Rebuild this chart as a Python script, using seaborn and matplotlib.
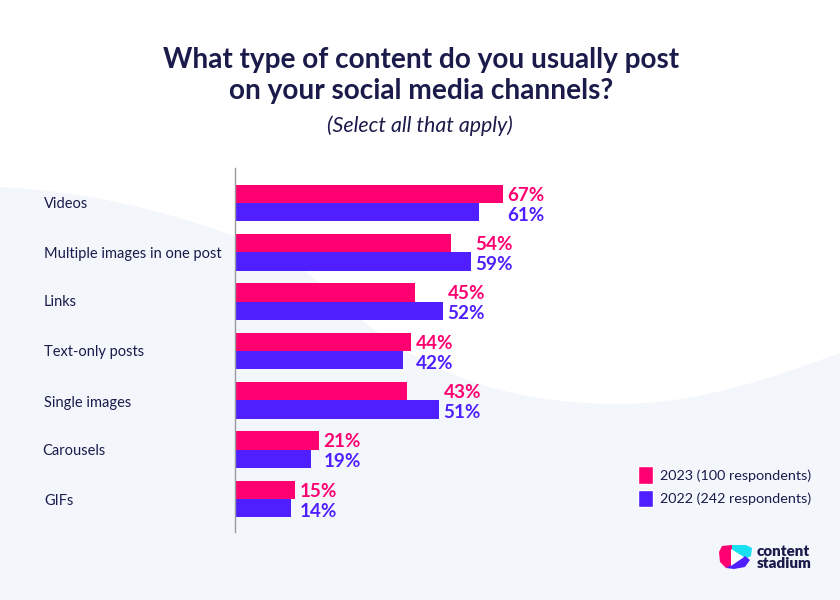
import numpy as np
import pandas as pd
import matplotlib
matplotlib.use("Agg")
import matplotlib.pyplot as plt
from matplotlib.patches import Polygon, PathPatch, Patch
from matplotlib.path import Path
import seaborn as sns

categories = ["Videos", "Multiple images in one post", "Links", "Text-only posts",
              "Single images", "Carousels", "GIFs"]
values_2023 = [67, 54, 45, 44, 43, 21, 15]
values_2022 = [61, 59, 52, 42, 51, 19, 14]
series_names = ["2023 (100 respondents)", "2022 (242 respondents)"]

PINK = "#FF0070"
PURPLE = "#4F1FFF"
NAVY = "#1B1B4B"
BG = "#F3F7FC"

sns.set_theme(style="white")
plt.rcParams["font.family"] = ["Lato", "DejaVu Sans"]

df = pd.DataFrame({
    "category": categories * 2,
    "value": values_2023 + values_2022,
    "series": [series_names[0]] * 7 + [series_names[1]] * 7,
})

W, H = 840, 600
fig = plt.figure(figsize=(W / 100, H / 100), dpi=100, facecolor="white")

# background swoosh, pixel coords
bg = fig.add_axes([0, 0, 1, 1], zorder=0)
bg.set_xlim(0, W)
bg.set_ylim(H, 0)
bg.axis("off")
verts = [(0, 187), (110, 193), (200, 220), (290, 258),
         (350, 305), (420, 404), (620, 404),
         (700, 404), (780, 375), (840, 353),
         (840, 600), (0, 600), (0, 187)]
codes = [Path.MOVETO] + [Path.CURVE4] * 9 + [Path.LINETO] * 2 + [Path.CLOSEPOLY]
bg.add_patch(PathPatch(Path(verts, codes), facecolor=BG, edgecolor="none"))

# plot axes: x scale is 4 px per percent, groups 49.3 px apart
left, top, bottom = 234.7, 168, 532
ax = fig.add_axes([left / W, 1 - bottom / H, (W - left) / W, (bottom - top) / H], zorder=1)
ax.patch.set_alpha(0)
sns.barplot(data=df, y="category", x="value", hue="series", palette=[PINK, PURPLE],
            width=0.74, saturation=1, gap=0, dodge=True, linewidth=0, ax=ax, legend=False)
ax.set_xlim(0, (W - left) / 4)
ax.set_ylim(6.67, -0.71)
ax.set_xlabel("")
ax.set_ylabel("")
ax.set_xticks([])
ax.set_yticks([])
sns.despine(ax=ax, left=False, bottom=True)
ax.spines["left"].set_color("#9A9A9A")
ax.spines["left"].set_linewidth(1)

# labels share one left edge per group
for i, (a, b) in enumerate(zip(values_2023, values_2022)):
    x = max(a, b) + 1.2
    ax.text(x, i - 0.16, f"{a}%", color=PINK, fontsize=13.6, fontweight="bold", va="center", ha="left")
    ax.text(x, i + 0.245, f"{b}%", color=PURPLE, fontsize=13.6, fontweight="bold", va="center", ha="left")

# category names are drawn left aligned, far from the axis
label_x = [44, 44, 44, 44, 44, 42, 44]
label_y = [203.5, 254, 302, 352, 403, 451, 501]
for name, x, y in zip(categories, label_x, label_y):
    bg.text(x, y, name, color=NAVY, fontsize=10.5, va="center", ha="left")

# title
bg.text(421, 60, "What type of content do you usually post", color=NAVY, fontsize=20.2,
        fontweight="bold", ha="center", va="center")
bg.text(421, 91, "on your social media channels?", color=NAVY, fontsize=20.2,
        fontweight="bold", ha="center", va="center")
bg.text(420, 126, "(Select all that apply)", color=NAVY, fontsize=15.4, fontstyle="italic",
        ha="center", va="center")

# legend
handles = [Patch(facecolor=PINK, label=series_names[0]), Patch(facecolor=PURPLE, label=series_names[1])]
fig.legend(handles=handles, loc="upper left", bbox_to_anchor=(638 / W, 1 - 466 / H), frameon=False,
           fontsize=10.35, handlelength=1.04, handleheight=1.5, handletextpad=0.52,
           labelspacing=0.42, borderpad=0, borderaxespad=0, labelcolor=NAVY)

# logo
bg.add_patch(Polygon([(732, 545), (722, 546), (719, 552), (720, 562), (726, 568), (734, 566), (732, 556)],
                     closed=True, facecolor=PINK, edgecolor="none"))
bg.add_patch(Polygon([(732, 545), (746, 545), (752, 548), (751, 556), (745, 559), (732, 551)],
                     closed=True, facecolor="#19E0F0", edgecolor="none"))
bg.add_patch(Polygon([(745, 556), (750, 560), (745, 567), (734, 569), (726, 568), (733, 564)],
                     closed=True, facecolor=PURPLE, edgecolor="none"))
bg.add_patch(Polygon([(731, 549), (744, 557), (731, 566)], closed=True, facecolor="white", edgecolor="none"))
bg.text(757, 551, "content", color=NAVY, fontsize=10.9, fontweight="heavy", va="center", ha="left")
bg.text(757, 563, "stadium", color=NAVY, fontsize=10.9, fontweight="heavy", va="center", ha="left")

fig.savefig("out.png", dpi=100, facecolor="white")
